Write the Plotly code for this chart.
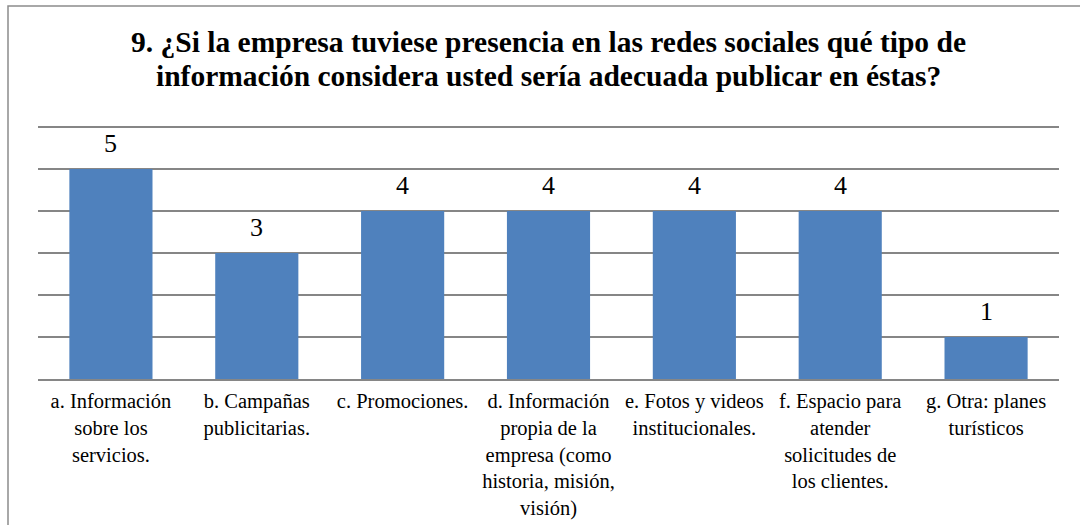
import plotly.graph_objects as go

# Survey answers for question 9
categories = [
    "a. Información<br>sobre los<br>servicios.",
    "b. Campañas<br>publicitarias.",
    "c. Promociones.",
    "d. Información<br>propia de la<br>empresa (como<br>historia, misión,<br>visión)",
    "e. Fotos y videos<br>institucionales.",
    "f. Espacio para<br>atender<br>solicitudes de<br>los clientes.",
    "g. Otra: planes<br>turísticos",
]
values = [5, 3, 4, 4, 4, 4, 1]

title_lines = [
    "9. ¿Si la empresa tuviese presencia en las redes sociales qué tipo de",
    "información considera usted sería adecuada publicar en éstas?",
]

W, H = 1080, 525
L, R, T, B = 38, 21, 124, 146
pw, ph = W - L - R, H - T - B
SERIF = "Liberation Serif"

x_idx = list(range(len(categories)))

fig = go.Figure(go.Bar(
    x=x_idx,
    y=values,
    marker=dict(color="#4F81BD", line=dict(width=0)),
    width=0.57,
    hoverinfo="skip",
))

# value labels above each bar
for i, v in zip(x_idx, values):
    fig.add_annotation(x=i, y=v, text=str(v), showarrow=False,
                       yanchor="bottom", yshift=9,
                       font=dict(family=SERIF, size=26, color="#000000"))

# two-line bold heading, baselines given in pixels from the top of the page
for line, base_px in zip(title_lines, [53, 87]):
    fig.add_annotation(xref="paper", yref="paper",
                       x=(548 - L) / pw, y=(H - B - base_px) / ph,
                       xanchor="center", yanchor="bottom", yshift=-7,
                       text=f"<b>{line}</b>", showarrow=False,
                       font=dict(family=SERIF, size=29.5, color="#000000"))

# outer chart frame
fig.add_shape(type="rect", xref="paper", yref="paper",
              x0=(8 - L) / pw, x1=(W + 10 - L) / pw,
              y0=(H - (H + 10) - B) / ph, y1=(H - 6 - B) / ph,
              line=dict(color="#8C8C8C", width=1.5), fillcolor="rgba(0,0,0,0)",
              layer="below")

fig.update_layout(
    width=W, height=H,
    margin=dict(l=L, r=R, t=T, b=B, autoexpand=False),
    paper_bgcolor="white", plot_bgcolor="white",
    showlegend=False,
    font=dict(family=SERIF, color="#000000"),
)

fig.update_xaxes(
    tickmode="array", tickvals=x_idx, ticktext=categories,
    range=[-0.5, len(categories) - 0.5],
    showgrid=False, showline=True, linecolor="#868686", linewidth=1.5,
    ticks="", tickfont=dict(family=SERIF, size=20.5, color="#000000"),
    ticklabelstandoff=3,
    tickangle=0, zeroline=False, automargin=False,
)
fig.update_yaxes(
    range=[0, 6 + 3 / 42], dtick=1, showticklabels=False,
    showgrid=True, gridcolor="#868686", gridwidth=1.5,
    zeroline=False, showline=False, ticks="", automargin=False,
)

fig.write_html("out.html")
